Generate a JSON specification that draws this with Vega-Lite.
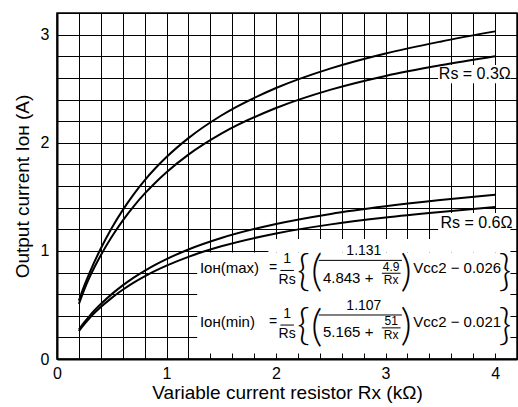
{
  "$schema": "https://vega.github.io/schema/vega-lite/v6.json",
  "width": 460,
  "height": 346,
  "autosize": {"type": "none"},
  "padding": {"left": 57, "top": 13, "right": 1, "bottom": 48},
  "background": "white",
  "config": {
    "view": {"stroke": "#000", "strokeWidth": 1.5},
    "font": "Liberation Sans",
    "axis": {
      "ticks": false,
      "grid": true,
      "gridColor": "#000",
      "gridWidth": 1,
      "domainColor": "#000",
      "domainWidth": 2,
      "labelColor": "#000",
      "labelFontSize": 16,
      "labelFont": "Liberation Sans",
      "titleFont": "Liberation Sans",
      "titleFontSize": 19,
      "titleFontWeight": "normal",
      "titleColor": "#000",
      "labelFlush": false
    }
  },
  "datasets": {
    "curves": [
      {"s": "max03", "x": 0.2, "y": 0.54}, {"s": "max03", "x": 0.25, "y": 0.68}, {"s": "max03", "x": 0.3, "y": 0.804}, {"s": "max03", "x": 0.4, "y": 1.022}, {"s": "max03", "x": 0.5, "y": 1.212}, {"s": "max03", "x": 0.6, "y": 1.377}, {"s": "max03", "x": 0.7, "y": 1.523}, {"s": "max03", "x": 0.8, "y": 1.652}, {"s": "max03", "x": 0.9, "y": 1.766}, {"s": "max03", "x": 1.0, "y": 1.868}, {"s": "max03", "x": 1.2, "y": 2.043}, {"s": "max03", "x": 1.5, "y": 2.252}, {"s": "max03", "x": 2.0, "y": 2.506}, {"s": "max03", "x": 2.5, "y": 2.688}, {"s": "max03", "x": 3.0, "y": 2.826}, {"s": "max03", "x": 3.5, "y": 2.935}, {"s": "max03", "x": 4.0, "y": 3.030},
      {"s": "min03", "x": 0.2, "y": 0.51}, {"s": "min03", "x": 0.25, "y": 0.645}, {"s": "min03", "x": 0.3, "y": 0.762}, {"s": "min03", "x": 0.4, "y": 0.960}, {"s": "min03", "x": 0.5, "y": 1.131}, {"s": "min03", "x": 0.6, "y": 1.280}, {"s": "min03", "x": 0.7, "y": 1.412}, {"s": "min03", "x": 0.8, "y": 1.529}, {"s": "min03", "x": 0.9, "y": 1.633}, {"s": "min03", "x": 1.0, "y": 1.727}, {"s": "min03", "x": 1.2, "y": 1.890}, {"s": "min03", "x": 1.5, "y": 2.084}, {"s": "min03", "x": 2.0, "y": 2.321}, {"s": "min03", "x": 2.5, "y": 2.491}, {"s": "min03", "x": 3.0, "y": 2.618}, {"s": "min03", "x": 3.5, "y": 2.716}, {"s": "min03", "x": 4.0, "y": 2.80},
      {"s": "max06", "x": 0.2, "y": 0.272}, {"s": "max06", "x": 0.25, "y": 0.340}, {"s": "max06", "x": 0.3, "y": 0.402}, {"s": "max06", "x": 0.4, "y": 0.508}, {"s": "max06", "x": 0.5, "y": 0.600}, {"s": "max06", "x": 0.6, "y": 0.681}, {"s": "max06", "x": 0.7, "y": 0.753}, {"s": "max06", "x": 0.8, "y": 0.816}, {"s": "max06", "x": 0.9, "y": 0.873}, {"s": "max06", "x": 1.0, "y": 0.924}, {"s": "max06", "x": 1.2, "y": 1.013}, {"s": "max06", "x": 1.5, "y": 1.119}, {"s": "max06", "x": 2.0, "y": 1.249}, {"s": "max06", "x": 2.5, "y": 1.342}, {"s": "max06", "x": 3.0, "y": 1.412}, {"s": "max06", "x": 3.5, "y": 1.470}, {"s": "max06", "x": 4.0, "y": 1.520},
      {"s": "min06", "x": 0.2, "y": 0.258}, {"s": "min06", "x": 0.25, "y": 0.322}, {"s": "min06", "x": 0.3, "y": 0.381}, {"s": "min06", "x": 0.4, "y": 0.480}, {"s": "min06", "x": 0.5, "y": 0.565}, {"s": "min06", "x": 0.6, "y": 0.640}, {"s": "min06", "x": 0.7, "y": 0.706}, {"s": "min06", "x": 0.8, "y": 0.764}, {"s": "min06", "x": 0.9, "y": 0.817}, {"s": "min06", "x": 1.0, "y": 0.864}, {"s": "min06", "x": 1.2, "y": 0.945}, {"s": "min06", "x": 1.5, "y": 1.042}, {"s": "min06", "x": 2.0, "y": 1.161}, {"s": "min06", "x": 2.5, "y": 1.245}, {"s": "min06", "x": 3.0, "y": 1.309}, {"s": "min06", "x": 3.5, "y": 1.360}, {"s": "min06", "x": 4.0, "y": 1.405}
    ],
    "boxes": [
      {"x": 1.28, "x2": 4.14, "y": 0.05, "y2": 0.985},
      {"x": 1.93, "x2": 4.14, "y": 0.985, "y2": 1.11},
      {"x": 3.48, "x2": 4.14, "y": 1.11, "y2": 1.35},
      {"x": 3.48, "x2": 4.14, "y": 2.55, "y2": 2.72}
    ],
    "bars": [
      {"x": 2.04, "x2": 2.163, "y": 0.819},
      {"x": 2.39, "x2": 3.149, "y": 0.912},
      {"x": 2.966, "x2": 3.137, "y": 0.793},
      {"x": 2.04, "x2": 2.163, "y": 0.314},
      {"x": 2.39, "x2": 3.149, "y": 0.407},
      {"x": 2.966, "x2": 3.137, "y": 0.288}
    ],
    "labels": [
      {"x": 3.815, "y": 2.637, "t": "Rs = 0.3Ω"},
      {"x": 3.83, "y": 1.255, "t": "Rs = 0.6Ω"}
    ],
    "textC": [
      {"x": 1.974, "y": 0.844, "t": "="},
      {"x": 2.101, "y": 0.921, "t": "1"},
      {"x": 2.101, "y": 0.733, "t": "Rs"},
      {"x": 2.802, "y": 0.998, "t": "1.131"},
      {"x": 1.974, "y": 0.339, "t": "="},
      {"x": 2.101, "y": 0.416, "t": "1"},
      {"x": 2.101, "y": 0.228, "t": "Rs"},
      {"x": 2.802, "y": 0.493, "t": "1.107"}
    ],
    "textS": [
      {"x": 3.051, "y": 0.852, "t": "4.9"},
      {"x": 3.051, "y": 0.731, "t": "Rx"},
      {"x": 3.051, "y": 0.347, "t": "51"},
      {"x": 3.051, "y": 0.226, "t": "Rx"}
    ],
    "textL": [
      {"x": 1.305, "y": 0.844, "t": "Iᴏʜ(max)"},
      {"x": 2.428, "y": 0.751, "t": "4.843 +"},
      {"x": 3.252, "y": 0.844, "t": "Vᴄᴄ2 − 0.026"},
      {"x": 1.305, "y": 0.339, "t": "Iᴏʜ(min)"},
      {"x": 2.428, "y": 0.246, "t": "5.165 +"},
      {"x": 3.252, "y": 0.339, "t": "Vᴄᴄ2 − 0.021"}
    ],
    "brackets": [
      {"x": 2.25, "y": 0.8, "t": "{"},
      {"x": 2.37, "y": 0.795, "t": "("},
      {"x": 3.188, "y": 0.8, "t": ")"},
      {"x": 4.09, "y": 0.8, "t": "}"},
      {"x": 2.25, "y": 0.295, "t": "{"},
      {"x": 2.37, "y": 0.29, "t": "("},
      {"x": 3.188, "y": 0.295, "t": ")"},
      {"x": 4.09, "y": 0.295, "t": "}"}
    ]
  },
  "encoding": {
    "x": {
      "field": "x", "type": "quantitative",
      "scale": {"domain": [0, 4.2], "nice": false, "zero": false},
      "axis": {
        "values": [0, 0.2, 0.4, 0.6, 0.8, 1, 1.2, 1.4, 1.6, 1.8, 2, 2.2, 2.4, 2.6, 2.8, 3, 3.2, 3.4, 3.6, 3.8, 4, 4.2],
        "labelExpr": "datum.value % 1 === 0 ? format(datum.value, 'd') : ''",
        "title": "Variable current resistor Rx (kΩ)",
        "labelPadding": 6,
        "titlePadding": 2
      }
    },
    "y": {
      "field": "y", "type": "quantitative",
      "scale": {"domain": [0, 3.2], "nice": false, "zero": false},
      "axis": {
        "values": [0, 0.2, 0.4, 0.6, 0.8, 1, 1.2, 1.4, 1.6, 1.8, 2, 2.2, 2.4, 2.6, 2.8, 3, 3.2],
        "labelExpr": "datum.value % 1 === 0 ? format(datum.value, 'd') : ''",
        "title": "Output current Iᴏʜ (A)",
        "labelPadding": 8,
        "titlePadding": 8
      }
    }
  },
  "layer": [
    {
      "data": {"name": "boxes"},
      "mark": {"type": "rect", "fill": "white", "stroke": null},
      "encoding": {"x2": {"field": "x2"}, "y2": {"field": "y2"}}
    },
    {
      "data": {"name": "curves"},
      "mark": {"type": "line", "color": "#000", "strokeWidth": 2, "interpolate": "monotone"},
      "encoding": {"detail": {"field": "s"}}
    },
    {
      "data": {"name": "bars"},
      "mark": {"type": "rule", "color": "#000", "strokeWidth": 1},
      "encoding": {"x2": {"field": "x2"}}
    },
    {
      "data": {"name": "labels"},
      "mark": {"type": "text", "align": "center", "baseline": "middle", "fontSize": 16, "color": "#000", "font": "Liberation Sans"},
      "encoding": {"text": {"field": "t"}}
    },
    {
      "data": {"name": "textC"},
      "mark": {"type": "text", "align": "center", "baseline": "middle", "fontSize": 14, "color": "#000", "font": "Liberation Sans"},
      "encoding": {"text": {"field": "t"}}
    },
    {
      "data": {"name": "textS"},
      "mark": {"type": "text", "align": "center", "baseline": "middle", "fontSize": 12, "color": "#000", "font": "Liberation Sans"},
      "encoding": {"text": {"field": "t"}}
    },
    {
      "data": {"name": "textL"},
      "mark": {"type": "text", "align": "left", "baseline": "middle", "fontSize": 15, "color": "#000", "font": "Liberation Sans"},
      "encoding": {"text": {"field": "t"}}
    },
    {
      "data": {"name": "brackets"},
      "mark": {"type": "text", "align": "center", "baseline": "middle", "fontSize": 44, "fontWeight": 300, "color": "#000", "font": "Lato"},
      "encoding": {"text": {"field": "t"}}
    }
  ]
}
